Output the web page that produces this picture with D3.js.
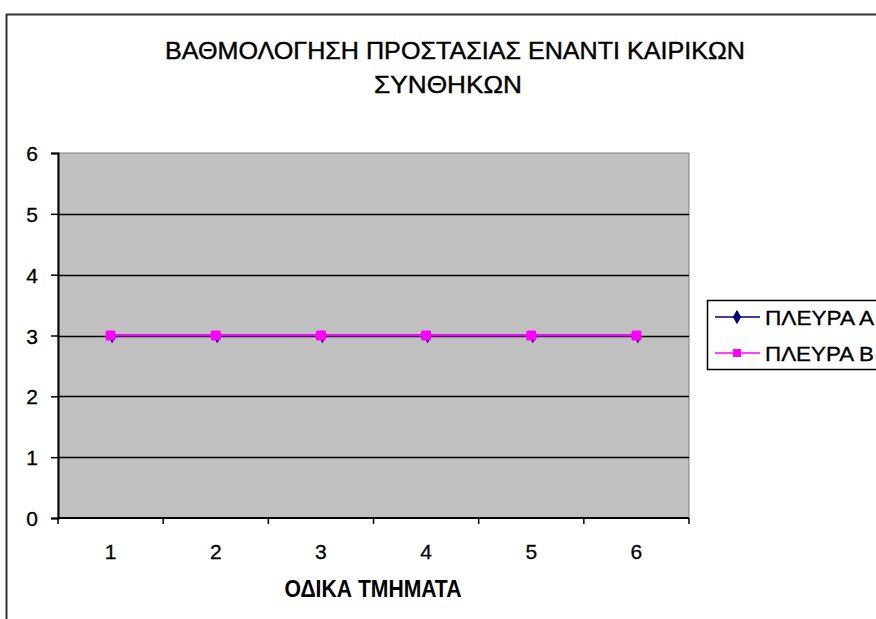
<!DOCTYPE html>
<html><head><meta charset="utf-8">
<script src="https://cdn.jsdelivr.net/npm/d3@7"></script>
<style>body{margin:0;background:#fff;}svg{display:block;font-family:"Liberation Sans",Arial,sans-serif;}</style>
</head><body>
<svg id="c" width="876" height="619"></svg>
<script>
const categories = [1, 2, 3, 4, 5, 6];
const seriesA = [3, 3, 3, 3, 3, 3];
const seriesB = [3, 3, 3, 3, 3, 3];
const seriesNames = ["ΠΛΕΥΡΑ Α", "ΠΛΕΥΡΑ Β"];
const yTicks = [0, 1, 2, 3, 4, 5, 6];
const titleLines = ["ΒΑΘΜΟΛΟΓΗΣΗ ΠΡΟΣΤΑΣΙΑΣ ΕΝΑΝΤΙ ΚΑΙΡΙΚΩΝ", "ΣΥΝΘΗΚΩΝ"];
const xTitle = "ΟΔΙΚΑ ΤΜΗΜΑΤΑ";

const svg = d3.select("#c");
const plot = {l: 58, t: 153, r: 689, b: 518};
const FONT = "Liberation Sans, Arial, sans-serif";

// outer chart border
svg.append("rect").attr("x", 6.5).attr("y", 14.5).attr("width", 900).attr("height", 700)
  .attr("fill", "#fff").attr("stroke", "#333").attr("stroke-width", 2);

// title
svg.append("text").attr("x", 455).attr("y", 59).attr("text-anchor", "middle")
  .attr("font-size", 24).attr("textLength", 580).attr("lengthAdjust", "spacingAndGlyphs")
  .attr("stroke", "#000").attr("stroke-width", 0.4)
  .attr("fill", "#000").text(titleLines[0]);
svg.append("text").attr("x", 448).attr("y", 93).attr("text-anchor", "middle")
  .attr("font-size", 24).attr("textLength", 148).attr("lengthAdjust", "spacingAndGlyphs")
  .attr("stroke", "#000").attr("stroke-width", 0.4)
  .attr("fill", "#000").text(titleLines[1]);

const x = d3.scaleBand().domain(categories).range([plot.l, plot.r]).padding(0);
const y = d3.scaleLinear().domain([0, 6]).range([plot.b, plot.t]);

// plot area
svg.append("rect").attr("x", plot.l).attr("y", plot.t).attr("width", plot.r - plot.l)
  .attr("height", plot.b - plot.t).attr("fill", "#c0c0c0").attr("stroke", "#808080").attr("stroke-width", 1);

// gridlines
svg.append("g").selectAll("line").data(yTicks.filter(d => d > 0 && d < 6)).join("line")
  .attr("x1", plot.l).attr("x2", plot.r).attr("y1", d => Math.round(y(d)) + 0.5).attr("y2", d => Math.round(y(d)) + 0.5)
  .attr("stroke", "#000").attr("stroke-width", 1.5);

// y axis
const yAxis = svg.append("g").attr("transform", `translate(${plot.l},0)`)
  .call(d3.axisLeft(y).tickValues(yTicks).tickFormat(d3.format("d")).tickSize(7).tickPadding(13));
yAxis.attr("font-size", 21).attr("font-family", FONT);
yAxis.select(".domain").attr("stroke", "#000").attr("stroke-width", 2);
yAxis.selectAll(".tick line").attr("stroke", "#000").attr("stroke-width", 1.5);
yAxis.selectAll(".tick text").attr("fill", "#000").attr("dy", "0.36em").attr("stroke", "#000").attr("stroke-width", 0.3);

// x axis
const xAxis = svg.append("g").attr("transform", `translate(0,${plot.b})`)
  .call(d3.axisBottom(x).tickSize(0).tickPadding(26));
xAxis.attr("font-size", 21).attr("font-family", FONT);
xAxis.select(".domain").attr("d", `M${plot.l},0H${plot.r}`).attr("stroke", "#000").attr("stroke-width", 2);
xAxis.selectAll(".tick text").attr("fill", "#000").attr("stroke", "#000").attr("stroke-width", 0.3);
const bounds = categories.map(c => x(c)).concat([x(categories[categories.length - 1]) + x.bandwidth()]);
xAxis.append("g").selectAll("line").data(bounds).join("line")
  .attr("x1", d => d).attr("x2", d => d).attr("y1", 0).attr("y2", 6)
  .attr("stroke", "#000").attr("stroke-width", 1.5);

// x title
svg.append("text").attr("x", 373).attr("y", 597).attr("text-anchor", "middle")
  .attr("font-size", 23).attr("font-weight", "bold").attr("textLength", 177).attr("lengthAdjust", "spacingAndGlyphs")
  .attr("fill", "#000").text(xTitle);

const cx = c => x(c) + x.bandwidth() / 2;
const line = d3.line().x((d, i) => cx(categories[i])).y(d => y(d));

// series A
svg.append("path").datum(seriesA).attr("d", line).attr("fill", "none").attr("stroke", "#000080").attr("stroke-width", 2);
const diamond = d3.symbol().type(d3.symbolDiamond).size(45);
svg.append("g").selectAll("path").data(seriesA).join("path")
  .attr("transform", (d, i) => `translate(${cx(categories[i]) + 1.5},${y(d) + 1.5})`)
  .attr("d", diamond).attr("fill", "#000080");

// series B
svg.append("path").datum(seriesB).attr("d", line).attr("fill", "none").attr("stroke", "#ff00ff").attr("stroke-width", 2);
svg.append("g").selectAll("rect").data(seriesB).join("rect")
  .attr("x", (d, i) => cx(categories[i]) - 5).attr("y", d => y(d) - 5)
  .attr("width", 10).attr("height", 10).attr("rx", 1.5).attr("fill", "#ff00ff");

// legend
const lg = svg.append("g");
lg.append("rect").attr("x", 707.5).attr("y", 300.5).attr("width", 200).attr("height", 69)
  .attr("fill", "#fff").attr("stroke", "#000").attr("stroke-width", 1.5);
const legendRows = [
  {name: seriesNames[0], color: "#000080", type: "diamond", cy: 317},
  {name: seriesNames[1], color: "#ff00ff", type: "square", cy: 353}
];
legendRows.forEach(r => {
  lg.append("line").attr("x1", 715).attr("x2", 760).attr("y1", r.cy).attr("y2", r.cy)
    .attr("stroke", r.color).attr("stroke-width", 1.5);
  if (r.type === "diamond") {
    lg.append("path").attr("transform", `translate(737,${r.cy})`).attr("d", d3.symbol().type(d3.symbolDiamond).size(60)).attr("fill", r.color);
  } else {
    lg.append("rect").attr("x", 733).attr("y", r.cy - 4).attr("width", 8).attr("height", 8).attr("fill", r.color);
  }
  lg.append("text").attr("x", 765).attr("y", r.cy + 8).attr("font-size", 21)
    .attr("textLength", 109).attr("lengthAdjust", "spacingAndGlyphs").attr("stroke", "#000").attr("stroke-width", 0.3)
    .attr("fill", "#000").text(r.name);
});
</script>
</body></html>
